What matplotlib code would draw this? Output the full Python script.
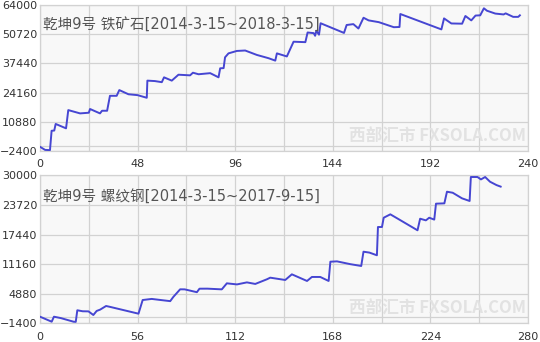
import matplotlib
matplotlib.use("Agg")
import matplotlib.pyplot as plt
from matplotlib.ticker import MultipleLocator, FixedLocator

plt.rcParams['font.family'] = ['Noto Sans CJK SC', 'DejaVu Sans']

# ── 铁矿石 (上图) ──────────────────────────────────────────────
ore_x = [0, 2.5, 4.9, 5.7, 7.0, 7.7, 12.8, 13.9, 19.7, 24.0, 24.6, 29.5, 30.5,
         33.0, 34.4, 37.7, 39.0, 43.5, 48.0, 52.5, 52.8, 56.5, 59.9, 61.0, 64.8,
         68.1, 73.8, 75.2, 78.0, 83.7, 87.8, 88.6, 90.3, 91.0, 92.7, 96.8, 100.9,
         106.6, 112.4, 115.7, 116.5, 121.4, 124.7, 130.5, 131.6, 134.6, 135.3,
         135.9, 137.2, 138.0, 149.5, 150.8, 154.1, 156.6, 159.1, 161.6, 166.6,
         174.0, 176.8, 177.2, 197.4, 198.7, 202.3, 207.6, 209.2, 212.1, 214.2,
         216.5, 218.3, 219.8, 223.9, 228.0, 229.0, 232.7, 235.2, 236.0]
ore_y = [-500, -1900, -2000, 6800, 6900, 9900, 7900, 16200, 14700, 15000, 16700,
         14700, 15900, 15900, 22700, 22700, 25300, 23400, 23000, 21800, 29600,
         29400, 28900, 31100, 29600, 32300, 32000, 33200, 32500, 33000, 31100,
         35200, 35300, 40200, 42000, 43100, 43300, 41300, 39800, 38700, 42000,
         40600, 47300, 47100, 51500, 51200, 50000, 52300, 50500, 55700, 51300,
         54900, 55300, 53300, 58200, 57000, 56200, 53900, 54000, 59900, 52900,
         57900, 55600, 55500, 59000, 57000, 59200, 59300, 62500, 61400, 60100,
         59700, 60200, 58600, 58600, 59300]

# ── 螺纹钢 (下图) ──────────────────────────────────────────────
rebar_x = [0, 6.7, 8.0, 12.0, 19.2, 20.5, 21.4, 24.5, 27.8, 30.6, 32.5, 34.5,
           37.9, 40.0, 56.5, 58.9, 64.1, 69.0, 74.7, 76.5, 80.4, 83.0, 90.0,
           91.5, 96.0, 104.3, 107.2, 113.0, 118.7, 123.5, 130.2, 132.1, 140.7,
           144.5, 153.2, 156.0, 160.8, 165.6, 166.6, 170.4, 178.0, 184.3, 185.6,
           189.0, 193.3, 193.9, 196.2, 197.2, 201.0, 204.8, 216.6, 218.1, 221.4,
           223.3, 226.2, 227.2, 232.0, 233.5, 236.8, 242.1, 246.5, 247.2, 251.0,
           253.0, 255.4, 258.2, 261.9, 264.3]
rebar_y = [0, -1060, 0, -300, -1060, -1100, 1360, 1150, 1130, 360, 1220, 1500,
           2270, 2100, 640, 3540, 3770, 3550, 3300, 4200, 5810, 5800, 5200,
           5940, 5950, 5800, 7080, 6850, 7280, 6950, 7940, 8280, 7790, 8990,
           7580, 8430, 8430, 7580, 11670, 11740, 11150, 10760, 13790, 13600,
           13030, 19030, 19030, 21000, 21720, 20900, 18330, 20790, 20440, 21000,
           20600, 23980, 24050, 26520, 26300, 25120, 24550, 29640, 29640, 29130,
           29640, 28640, 27930, 27600]

ore_title = "乾坤9号 铁矿石[2014-3-15~2018-3-15]"
rebar_title = "乾坤9号 螺纹钢[2014-3-15~2017-9-15]"
watermark = "西部汇市 FXSOLA.COM"

ore_yticks = [-2400, 10880, 24160, 37440, 50720, 64000]
rebar_yticks = [-1400, 4880, 11160, 17440, 23720, 30000]

LINE = "#4646d2"
GRID = "#d2d2d2"


def draw_panel(ax, xs, ys, xmax, xstep, yticks, title):
    ax.set_facecolor("#f8f8f8")
    ax.plot(xs, ys, color=LINE, lw=1.4, zorder=3)
    ax.set_xlim(0, xmax)
    ax.set_ylim(yticks[0], yticks[-1])
    ax.xaxis.set_major_locator(MultipleLocator(xstep))
    ax.xaxis.set_minor_locator(MultipleLocator(xstep / 2))
    ax.yaxis.set_major_locator(FixedLocator(yticks))
    ax.yaxis.set_minor_locator(FixedLocator([0]))
    ax.grid(True, which="both", color=GRID, lw=0.9, zorder=0)
    ax.set_axisbelow(True)
    ax.tick_params(which="both", length=0)
    ax.tick_params(axis="y", pad=2, labelsize=8, labelcolor="#333333")
    ax.tick_params(axis="x", pad=6, labelsize=8, labelcolor="#333333")
    for lbl in ax.get_xticklabels() + ax.get_yticklabels():
        lbl.set_family("DejaVu Sans")
    for s in ax.spines.values():
        s.set_color(GRID)
        s.set_linewidth(0.9)
    # 数字用较宽的 DejaVu，中文回落到 Noto
    ax.text(0.006, 0.86, title, transform=ax.transAxes, fontsize=10.5,
            family=["DejaVu Sans", "Noto Sans CJK SC"],
            color="#555555", va="center", ha="left", zorder=4)
    ax.text(0.995, 0.10, watermark, transform=ax.transAxes, fontsize=12,
            color="#e2e2e2", fontweight="bold", style="italic",
            va="center", ha="right", zorder=1)


fig = plt.figure(figsize=(5.4, 3.42), dpi=100)
fig.patch.set_facecolor("white")

ax1 = fig.add_axes([0.0741, 0.5585, 0.9037, 0.4269])
ax2 = fig.add_axes([0.0741, 0.0547, 0.9037, 0.4327])

draw_panel(ax1, ore_x, ore_y, 240, 48, ore_yticks, ore_title)
draw_panel(ax2, rebar_x, rebar_y, 280, 56, rebar_yticks, rebar_title)

fig.savefig("out.png", dpi=100)
